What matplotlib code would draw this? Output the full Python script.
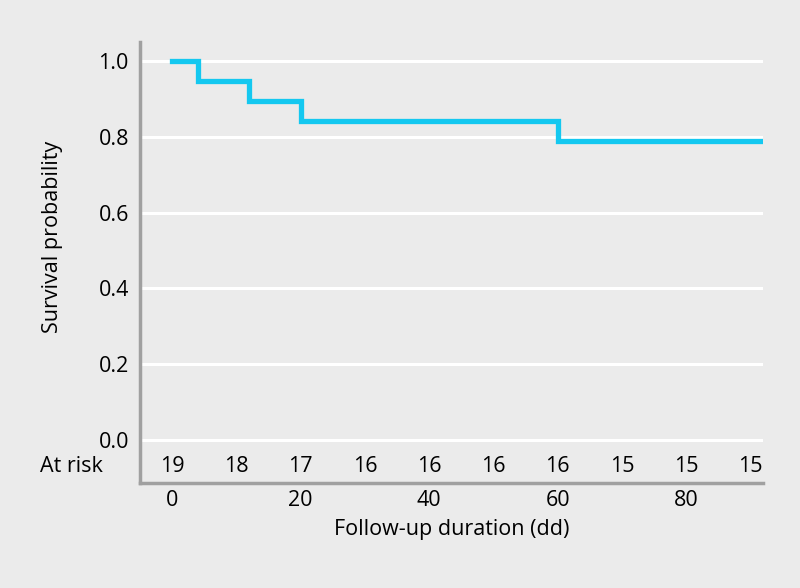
import numpy as np
import matplotlib.pyplot as plt

plt.rcParams['font.family'] = ['Open Sans', 'DejaVu Sans']

# Kaplan-Meier step data
times = [0, 4, 12, 20, 60, 92]
survival = [1.0, 18 / 19, 17 / 19, 16 / 19, 15 / 19, 15 / 19]

# number at risk table
risk_times = [0, 10, 20, 30, 40, 50, 60, 70, 80, 90]
at_risk = [19, 18, 17, 16, 16, 16, 16, 15, 15, 15]

x_ticks = [0, 20, 40, 60, 80]
y_ticks = [0.0, 0.2, 0.4, 0.6, 0.8, 1.0]

fs = 15.5
bg = '#ebebeb'
fig = plt.figure(figsize=(8, 5.88), dpi=100, facecolor=bg)
ax = fig.add_axes([0.175, 0.1786, 0.779, 0.75])
ax.set_facecolor(bg)

for y in y_ticks:
    ax.axhline(y, color='white', lw=2.2, zorder=1)

ax.step(times, survival, where='post', color='#14c8f0', lw=3.8, zorder=3,
        solid_joinstyle='miter')

for t, n in zip(risk_times, at_risk):
    ax.text(t, -0.07, str(n), ha='center', va='center', fontsize=fs)
ax.text(-0.059, -0.07, 'At risk', transform=ax.get_yaxis_transform(),
        ha='right', va='center', fontsize=fs)

ax.set_xlim(-5, 92)
ax.set_ylim(-0.113, 1.05)
ax.set_xticks(x_ticks)
ax.set_yticks(y_ticks)
ax.set_yticklabels([f'{v:.1f}' for v in y_ticks])
ax.tick_params(length=0, labelsize=fs, pad=8)
ax.tick_params(axis='x', pad=5)

for s in ['top', 'right']:
    ax.spines[s].set_visible(False)
for s in ['left', 'bottom']:
    ax.spines[s].set_color('#a0a0a0')
    ax.spines[s].set_linewidth(2.5)

ax.set_xlabel('Follow-up duration (dd)', fontsize=fs, labelpad=6)
ax.set_ylabel('Survival probability', fontsize=fs)
ax.yaxis.set_label_coords(-0.124, 0.558)

fig.savefig('out.png', dpi=100, facecolor=bg)
